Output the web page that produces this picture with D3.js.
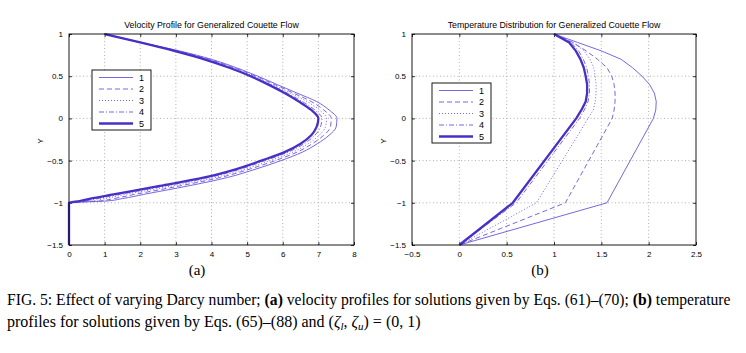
<!DOCTYPE html>
<html>
<head>
<meta charset="utf-8">
<title>Generalized Couette flow</title>
<script src="https://cdn.jsdelivr.net/npm/d3@7"></script>
<style>
  body { margin: 0; background: #fff; }
  #chart text { font-family: "Liberation Sans", Arial, sans-serif; fill: #000; }
  .axis path { display: none; }
  .axis line { stroke: #000; stroke-width: 0.8; }
  .axis text { font-size: 8px; }
  .grid line { stroke: #9a9a9a; stroke-width: 0.8; stroke-dasharray: 1, 2.5; }
  .frame { fill: none; stroke: #000; stroke-width: 0.9; }
  .title { font-size: 8.8px; }
  .legendBox { fill: #fff; stroke: #000; stroke-width: 0.9; }
  .legendLabel { font-size: 9px; }
  #chart .caption text { font-family: "Liberation Serif", "Times New Roman", serif; }
</style>
</head>
<body>
<svg id="chart" width="746" height="353"></svg>
<script>
  // velocity panel (a)
  velY = [1, 0.9, 0.8, 0.7, 0.6, 0.5, 0.4, 0.3, 0.2, 0.1, 0, -0.1, -0.2, -0.3, -0.4, -0.5, -0.6, -0.7, -0.8, -0.9, -0.95, -0.98, -1, -1.5];
  vel1 = [1.0, 2.0, 3.1, 4.0, 4.7, 5.3, 5.85, 6.4, 6.95, 7.3, 7.52, 7.5, 7.3, 6.97, 6.55, 5.95, 5.25, 4.45, 3.35, 2.1, 1.5, 1.0, 0, 0];
  vel2 = [1.0, 2.0, 3.05, 3.94, 4.64, 5.24, 5.78, 6.3, 6.8, 7.15, 7.36, 7.34, 7.15, 6.83, 6.4, 5.79, 5.08, 4.25, 3.11, 1.85, 1.25, 0.8, 0, 0];
  vel3 = [1.0, 2.0, 3.02, 3.89, 4.59, 5.19, 5.71, 6.21, 6.68, 7.03, 7.23, 7.2, 7.02, 6.71, 6.28, 5.65, 4.95, 4.1, 2.9, 1.6, 1.0, 0.6, 0, 0];
  vel4 = [1.0, 2.0, 2.98, 3.84, 4.54, 5.14, 5.65, 6.12, 6.55, 6.9, 7.1, 7.06, 6.9, 6.6, 6.15, 5.51, 4.81, 3.93, 2.7, 1.42, 0.8, 0.4, 0, 0];
  vel5 = [1.0, 2.0, 2.95, 3.8, 4.5, 5.1, 5.6, 6.05, 6.45, 6.8, 7.0, 6.95, 6.8, 6.5, 6.05, 5.4, 4.7, 3.8, 2.55, 1.25, 0.6, 0.3, 0, 0];

  // temperature panel (b)
  tempY = [1, 0.9, 0.8, 0.7, 0.6, 0.5, 0.4, 0.3, 0.2, 0.1, 0, -1, -1.5];
  temp1 = [1.0, 1.25, 1.5, 1.71, 1.83, 1.93, 2.01, 2.06, 2.08, 2.075, 2.05, 1.56, 0];
  temp2 = [1.0, 1.2, 1.34, 1.46, 1.56, 1.61, 1.635, 1.645, 1.645, 1.635, 1.615, 1.12, 0];
  temp3 = [1.0, 1.2, 1.32, 1.38, 1.42, 1.435, 1.445, 1.445, 1.435, 1.415, 1.36, 0.815, 0];
  temp4 = [1.0, 1.18, 1.26, 1.31, 1.345, 1.365, 1.375, 1.375, 1.36, 1.32, 1.27, 0.6, 0];
  temp5 = [1.0, 1.16, 1.23, 1.28, 1.315, 1.335, 1.35, 1.35, 1.335, 1.29, 1.235, 0.565, 0];

  seriesNames = ["1", "2", "3", "4", "5"];

  velXTicks = [0, 1, 2, 3, 4, 5, 6, 7, 8];
  velXLabels = ["0", "1", "2", "3", "4", "5", "6", "7", "8"];
  tempXTicks = [-0.5, 0, 0.5, 1, 1.5, 2, 2.5];
  tempXLabels = ["\u22120.5", "0", "0.5", "1", "1.5", "2", "2.5"];
  yTicks = [-1.5, -1, -0.5, 0, 0.5, 1];
  yLabels = ["\u22121.5", "\u22121", "\u22120.5", "0", "0.5", "1"];

  // line styles per series
  lineStyle = [
    { width: 0.9, dash: null, color: "#6a55dd" },
    { width: 0.9, dash: "5,3", color: "#6a55dd" },
    { width: 0.9, dash: "1,2", color: "#6a55dd" },
    { width: 0.9, dash: "5,2,1,2", color: "#6a55dd" },
    { width: 2.3, dash: null, color: "#4a2fc6" }
  ];

  chart = d3.select("#chart");

  function drawPanel(p) {
    g = chart.append("g");

    x = d3.scaleLinear().domain(p.xDomain).range(p.xRange);
    y = d3.scaleLinear().domain([-1.5, 1]).range([245, 34]);

    // grid
    grid = g.append("g").attr("class", "grid");
    grid.selectAll(".gx")
      .data(p.xTicks.slice(1, -1))
      .enter().append("line")
        .attr("x1", function(d) { return x(d); })
        .attr("x2", function(d) { return x(d); })
        .attr("y1", y(-1.5))
        .attr("y2", y(1));
    grid.selectAll(".gy")
      .data(yTicks.slice(1, -1))
      .enter().append("line")
        .attr("x1", p.xRange[0])
        .attr("x2", p.xRange[1])
        .attr("y1", function(d) { return y(d); })
        .attr("y2", function(d) { return y(d); });

    // axes, MATLAB style: ticks inside on all four sides
    g.append("g").attr("class", "axis")
      .attr("transform", "translate(0," + y(-1.5) + ")")
      .call(d3.axisBottom(x).tickValues(p.xTicks)
        .tickFormat(function(d, i) { return p.xLabels[i]; })
        .tickSizeInner(-3).tickSizeOuter(0).tickPadding(6));
    g.append("g").attr("class", "axis")
      .attr("transform", "translate(0," + y(1) + ")")
      .call(d3.axisTop(x).tickValues(p.xTicks).tickFormat("")
        .tickSizeInner(-3).tickSizeOuter(0));
    g.append("g").attr("class", "axis")
      .attr("transform", "translate(" + p.xRange[0] + ",0)")
      .call(d3.axisLeft(y).tickValues(yTicks)
        .tickFormat(function(d, i) { return yLabels[i]; })
        .tickSizeInner(-3).tickSizeOuter(0).tickPadding(6));
    g.append("g").attr("class", "axis")
      .attr("transform", "translate(" + p.xRange[1] + ",0)")
      .call(d3.axisRight(y).tickValues(yTicks).tickFormat("")
        .tickSizeInner(-3).tickSizeOuter(0));

    // curves
    line = d3.line()
      .x(function(d) { return x(d[0]); })
      .y(function(d) { return y(d[1]); })
      .curve(p.curve);

    p.series.forEach(function(s, i) {
      pts = s.map(function(v, j) { return [v, p.yValues[j]]; });
      g.append("path")
        .datum(pts)
        .attr("d", line)
        .attr("fill", "none")
        .attr("stroke", lineStyle[i].color)
        .attr("stroke-width", lineStyle[i].width)
        .attr("stroke-dasharray", lineStyle[i].dash)
        .attr("stroke-linejoin", "round");
    });

    g.append("rect").attr("class", "frame")
      .attr("x", p.xRange[0]).attr("y", y(1))
      .attr("width", p.xRange[1] - p.xRange[0])
      .attr("height", y(-1.5) - y(1));

    // titles
    g.append("text").attr("class", "title")
      .attr("x", (p.xRange[0] + p.xRange[1]) / 2).attr("y", 28)
      .attr("text-anchor", "middle")
      .text(p.title);
    g.append("text")
      .attr("transform", "translate(" + p.yLabelX + ",141) rotate(-90)")
      .attr("text-anchor", "middle")
      .style("font-size", "8px")
      .text("Y");
    g.append("text")
      .attr("x", p.tagX).attr("y", 275)
      .attr("text-anchor", "middle")
      .style("font-family", "'Liberation Serif', serif")
      .style("font-size", "15px")
      .text(p.tag);

    // legend
    lg = g.append("g").attr("transform", "translate(" + p.legend[0] + "," + p.legend[1] + ")");
    lg.append("rect").attr("class", "legendBox")
      .attr("width", 59).attr("height", 60);
    keys = lg.selectAll(".key")
      .data(seriesNames)
      .enter().append("g")
        .attr("transform", function(d, i) { return "translate(0," + (7.5 + i * 11.5) + ")"; });
    keys.append("line")
      .attr("x1", 7).attr("x2", 41)
      .attr("stroke", function(d, i) { return lineStyle[i].color; })
      .attr("stroke-width", function(d, i) { return lineStyle[i].width; })
      .attr("stroke-dasharray", function(d, i) { return lineStyle[i].dash; });
    keys.append("text").attr("class", "legendLabel")
      .attr("x", 47).attr("y", 3.3)
      .text(function(d) { return d; });
  }

  drawPanel({
    xDomain: [0, 8], xRange: [69, 354],
    xTicks: velXTicks, xLabels: velXLabels,
    yValues: velY, series: [vel1, vel2, vel3, vel4, vel5],
    curve: d3.curveMonotoneY,
    title: "Velocity Profile for Generalized Couette Flow",
    yLabelX: 43, tag: "(a)", tagX: 197, legend: [92, 70]
  });

  drawPanel({
    xDomain: [-0.5, 2.5], xRange: [412, 696],
    xTicks: tempXTicks, xLabels: tempXLabels,
    yValues: tempY, series: [temp1, temp2, temp3, temp4, temp5],
    curve: d3.curveLinear,
    title: "Temperature Distribution for Generalized Couette Flow",
    yLabelX: 386, tag: "(b)", tagX: 540, legend: [432, 83]
  });

  // caption: each line squeezed horizontally to the width it has in the figure
  cap = chart.append("g").attr("class", "caption").style("font-size", "16px");

  function fitLine(text, left, baseline, width) {
    w = text.node().getComputedTextLength();
    text.attr("transform", "translate(" + left + "," + baseline + ") scale(" + (width / w) + ",1)");
  }

  t1 = cap.append("text");
  t1.append("tspan").text("FIG. 5: Effect of varying Darcy number; ");
  t1.append("tspan").style("font-weight", "bold").text("(a)");
  t1.append("tspan").text(" velocity profiles for solutions given by Eqs. (61)\u2013(70); ");
  t1.append("tspan").style("font-weight", "bold").text("(b)");
  t1.append("tspan").text(" temperature");
  fitLine(t1, 7, 305, 724);

  t2 = cap.append("text");
  t2.append("tspan").text("profiles for solutions given by Eqs. (65)\u2013(88) and (");
  t2.append("tspan").style("font-style", "italic").text("\u03B6");
  t2.append("tspan").attr("dy", 3).style("font-size", "11px").style("font-style", "italic").text("l");
  t2.append("tspan").attr("dy", -3).text(", ");
  t2.append("tspan").style("font-style", "italic").text("\u03B6");
  t2.append("tspan").attr("dy", 3).style("font-size", "11px").style("font-style", "italic").text("u");
  t2.append("tspan").attr("dy", -3).text(") = (0, 1)");
  fitLine(t2, 7, 327, 414);
</script>
</body>
</html>
